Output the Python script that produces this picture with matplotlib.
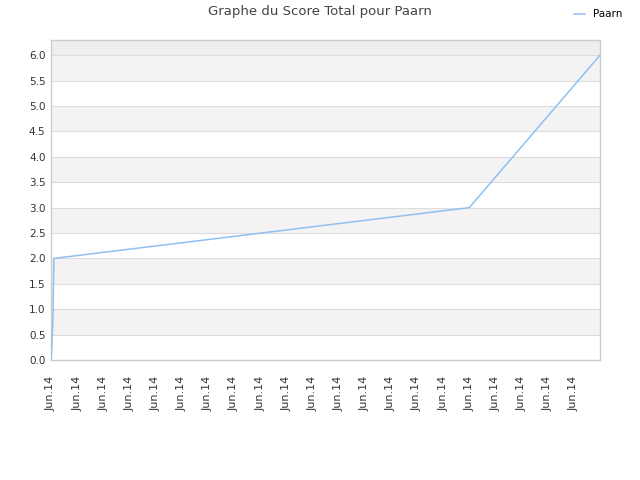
import matplotlib
matplotlib.use("Agg")
import matplotlib.pyplot as plt
import numpy as np

# data (x in tick-index units)
x_vals = [0.0, 0.03, 0.03, 0.07, 0.07, 0.11, 16.0, 21.0]
y_vals = [0.0, 0.25, 0.25, 0.75, 0.75, 2.0, 3.0, 6.0]
tick_labels = ["Jun.14"] * 21
series_name = "Paarn"
title = "Graphe du Score Total pour Paarn"

fig = plt.figure(figsize=(6.4, 4.8), dpi=100)
ax = fig.add_axes([51/640, 1-360/480, (600-51)/640, (360-40)/480])

ymax = 6.3
ax.set_xlim(0, 21)
ax.set_ylim(0, ymax)

# bands
for lo in np.arange(0.5, 6.0, 1.0):
    ax.axhspan(lo, lo + 0.5, color="#f3f3f3", zorder=0, lw=0)
ax.axhspan(6.0, ymax, color="#eeeeee", zorder=0, lw=0)

yt = np.arange(0, 6.01, 0.5)
ax.set_yticks(yt)
ax.set_yticklabels([f"{v:.1f}" for v in yt])
for v in yt[1:]:
    ax.axhline(v, color="#dddddd", lw=0.8, zorder=1)

ax.plot(x_vals, y_vals, color="#90c0f0", lw=1.1, zorder=3, label=series_name)

ax.set_xticks(range(len(tick_labels)))
ax.set_xticklabels(tick_labels, rotation=90)

for s in ax.spines.values():
    s.set_color("#cccccc")
    s.set_linewidth(1.0)
ax.tick_params(axis="y", length=0, labelsize=7.5, labelcolor="#333333", pad=4)
ax.tick_params(axis="x", length=0, labelsize=8, labelcolor="#333333", pad=11)

fig.text(0.5, 1-12/480, title, ha="center", va="center", fontsize=9.5, color="#444444")
leg = fig.legend(loc="upper right", bbox_to_anchor=(0.9875, 1.0), frameon=False, fontsize=7.5,
                 handlelength=1.0)

fig.savefig("out.png", dpi=100)
